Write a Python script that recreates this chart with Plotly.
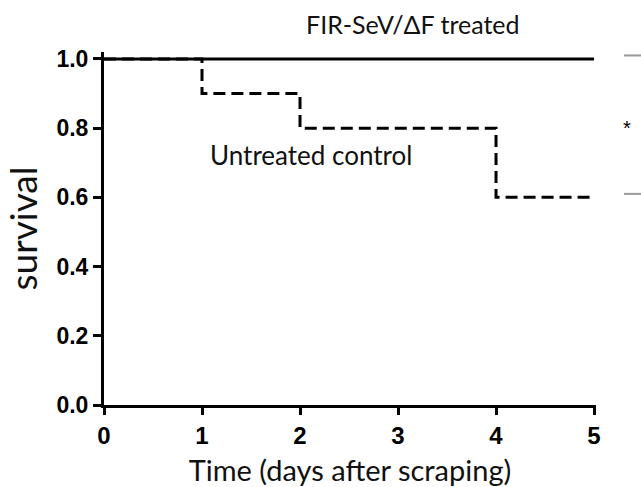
import plotly.graph_objects as go

# Data
treated_time = [0, 5]
treated_surv = [1.0, 1.0]
control_time = [0, 1, 2, 4, 5]
control_surv = [1.0, 0.9, 0.8, 0.6, 0.6]
x_ticks = [0, 1, 2, 3, 4, 5]
y_ticks = [0.0, 0.2, 0.4, 0.6, 0.8, 1.0]
y_tick_labels = ["0.0", "0.2", "0.4", "0.6", "0.8", "1.0"]
bracket_levels = [1.01, 0.61]
star_level = 0.80

fig = go.Figure()
fig.add_trace(go.Scatter(x=control_time, y=control_surv, mode="lines",
                         line=dict(color="black", width=3, dash="12px,6px", shape="hv"),
                         showlegend=False))
fig.add_trace(go.Scatter(x=treated_time, y=treated_surv, mode="lines",
                         line=dict(color="black", width=3), showlegend=False))

for lv in bracket_levels:
    fig.add_shape(type="line", xref="paper", yref="y", x0=1.057, x1=1.1, y0=lv, y1=lv,
                  line=dict(color="#999999", width=2))

fig.add_annotation(xref="paper", yref="y", x=1.075, y=star_level, text="*", showarrow=False,
                   yanchor="middle", font=dict(family="Liberation Sans", size=20, color="black"))
fig.add_annotation(xref="paper", yref="paper", x=0.629, y=1.079, text="FIR-SeV/ΔF treated",
                   showarrow=False, yanchor="middle",
                   font=dict(family="Lato", size=25, color="#111111"))
fig.add_annotation(xref="x", yref="y", x=2.11, y=0.722, text="Untreated control",
                   showarrow=False, yanchor="middle",
                   font=dict(family="Lato", size=26, color="#111111"))

fig.update_layout(
    width=641, height=487,
    margin=dict(l=104, r=45, t=52, b=82),
    paper_bgcolor="white", plot_bgcolor="white",
    xaxis=dict(range=[0, 5.02], tickvals=x_ticks, showgrid=False, zeroline=False,
               automargin=False,
               showline=True, linecolor="black", linewidth=3, ticks="outside",
               ticklen=7, tickwidth=2.5, tickcolor="black",
               tickfont=dict(family="Liberation Sans", size=24, color="black", weight="bold"),
               title=dict(text="Time (days after scraping)", standoff=22,
                          font=dict(family="Lato", size=29, color="#111111"))),
    yaxis=dict(range=[0, 1.02], tickvals=y_ticks, ticktext=y_tick_labels, showgrid=False,
               zeroline=False, automargin=False,
               showline=True, linecolor="black", linewidth=3,
               ticks="outside", ticklen=8, tickwidth=2.5, tickcolor="black",
               tickfont=dict(family="Liberation Sans", size=23, color="black", weight="bold"),
               title=dict(text="survival", standoff=10,
                          font=dict(family="Lato", size=37, color="#111111"))),
)

fig.write_html("out.html", config={"displayModeBar": False},
               post_script="document.body.style.margin='0px';")
